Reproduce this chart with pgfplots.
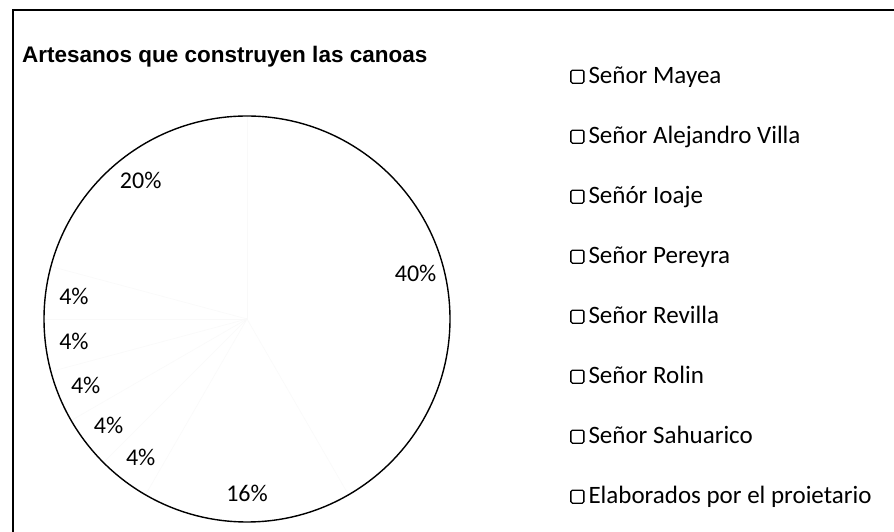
\documentclass[border=0pt]{standalone}
\usepackage{pgfplots}
\usepackage{pgfplotstable}
\pgfplotsset{compat=1.18}
\usepackage{fontspec}
\setmainfont{Carlito}
\newfontfamily\titlefont{Liberation Sans}[BoldFont={Liberation Sans Bold}]
\newcommand\labelfont{\fontsize{24}{28}\selectfont}

\pgfplotstableread[col sep=comma]{
name,value
Señor Mayea,40
Señor Alejandro Villa,16
Señór Ioaje,4
Señor Pereyra,4
Señor Revilla,4
Señor Rolin,4
Señor Sahuarico,4
Elaborados por el proietario,20
}\piedata

\begin{document}
\begin{tikzpicture}[x=1pt,y=1pt]
\useasboundingbox (0,0) rectangle (894,532);
\fill[white] (0,0) rectangle (894,532);
% frame
\draw[black, line width=1.8pt] (13,0) -- (13,522) -- (894,522);
% title
\node[anchor=base west, inner sep=0pt, font=\titlefont\bfseries\fontsize{22.5}{26}\selectfont] at (22,469) {Artesanos que construyen las canoas};

% total
\gdef\total{0}
\pgfplotstableforeachcolumnelement{value}\of\piedata\as\v{\pgfmathsetmacro{\tmp}{\total+\v}\xdef\total{\tmp}}

\begin{axis}[
  at={(247pt,213pt)}, anchor=center,
  scale only axis, width=406pt, height=406pt,
  xmin=-1, xmax=1, ymin=-1, ymax=1,
  hide axis, clip=false,
  legend image code/.code={\draw[black, line width=1.3pt, rounded corners=1.5pt] (0pt,-5.5pt) rectangle (13pt,7.5pt);},
  legend cell align=left,
  legend style={draw=none, fill=none, inner sep=0pt,
    at={(1.2956,1.1232)}, anchor=north west,
    font=\fontsize{25}{29}\selectfont,
    nodes={inner sep=0pt, text height=17pt, text depth=6pt},
    row sep=37pt,
    /tikz/every odd column/.append style={column sep=4pt}},
]
\gdef\cum{0}
\pgfplotsforeachungrouped \i in {0,...,7}{%
  \pgfplotstablegetelem{\i}{value}\of\piedata
  \let\v\pgfplotsretval
  \pgfmathsetmacro{\fa}{\cum/\total}%
  \pgfmathsetmacro{\fm}{(\cum+0.5*\v)/\total}%
  \pgfmathsetmacro{\a}{90-360*\fa}%
  \pgfmathsetmacro{\m}{90-360*\fm}%
  \pgfmathsetmacro{\newcum}{\cum+\v}%
  \xdef\cum{\newcum}%
  \pgfmathsetmacro{\lx}{0.86*cos(\m)}%
  \pgfmathsetmacro{\ly}{0.86*sin(\m)}%
  \pgfmathsetmacro{\ex}{cos(\a)}%
  \pgfmathsetmacro{\ey}{sin(\a)}%
  \pgfmathtruncatemacro{\pct}{\v}%
  \edef\temp{\noexpand\draw[gray!5, line width=0.5pt] (axis cs:0,0) -- (axis cs:\ex,\ey);
    \noexpand\node[font=\noexpand\labelfont, inner sep=0pt] at (axis cs:\lx,\ly) {\pct\noexpand\%};}%
  \temp
}
\draw[black, line width=1.4pt] (axis cs:0,0) circle[radius=203pt];
\addlegendimage{black}
\addlegendimage{black}
\addlegendimage{black}
\addlegendimage{black}
\addlegendimage{black}
\addlegendimage{black}
\addlegendimage{black}
\addlegendimage{black}
\legend{Señor Mayea, Señor Alejandro Villa, Señór Ioaje, Señor Pereyra, Señor Revilla, Señor Rolin, Señor Sahuarico, Elaborados por el proietario}
\end{axis}
\end{tikzpicture}
\end{document}
